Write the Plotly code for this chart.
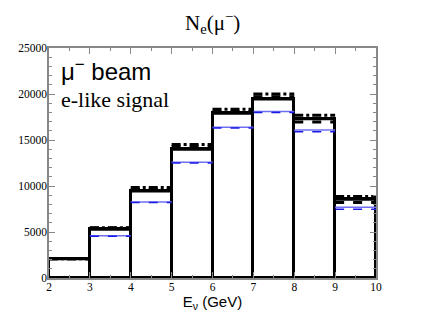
import plotly.graph_objects as go

# bin edges in GeV and event counts per bin
edges = [2, 3, 4, 5, 6, 7, 8, 9, 10]
solid_black = [2100, 5300, 9450, 14000, 17900, 19450, 17300, 8550]
dashed_black = [2100, 5430, 9650, 14280, 18100, 19700, 16950, 8200]
dashdot_black = [2100, 5450, 9850, 14500, 18350, 20000, 17700, 8850]
solid_blue = [2100, 4600, 8250, 12580, 16380, 18100, 16100, 7700]
dashed_blue = [2100, 4550, 8200, 12500, 16300, 18000, 15900, 7480]

SERIF = "Liberation Serif, Times New Roman, serif"
SANS = "Liberation Sans, Arial, sans-serif"


def segments(values):
    """Flat segments, one per bin, broken by None."""
    xs, ys = [], []
    for i, v in enumerate(values):
        xs += [edges[i], edges[i + 1], None]
        ys += [v, v, None]
    return xs, ys


centers = [(a + b) / 2 for a, b in zip(edges[:-1], edges[1:])]

fig = go.Figure()

# main histogram drawn as open bars
fig.add_trace(go.Bar(
    x=centers, y=solid_black, width=1,
    marker=dict(color="white", line=dict(color="black", width=3)),
))

for vals, color, dash, width in [
    (solid_blue, "#6f6ff2", "solid", 1.5),
    (dashed_blue, "#1a1ae6", "dash", 1.5),
    (dashed_black, "black", "dash", 3),
    (dashdot_black, "black", "dashdot", 3),
]:
    xs, ys = segments(vals)
    fig.add_trace(go.Scatter(
        x=xs, y=ys, mode="lines",
        line=dict(color=color, dash=dash, width=width),
    ))

# redraw solid tops so they sit above the dashed lines
xs, ys = segments(solid_black)
fig.add_trace(go.Scatter(x=xs, y=ys, mode="lines", line=dict(color="black", width=3)))

axis_common = dict(
    showgrid=False, zeroline=False, automargin=False,
    showline=True, linecolor="#888888", linewidth=1.5, mirror="ticks",
    ticks="inside", ticklen=6, tickcolor="#888888", tickwidth=1,
    tickfont=dict(family=SERIF, size=11.5, color="black"),
)

fig.update_xaxes(
    range=[2, 10], dtick=1, tick0=2, ticklabelstandoff=-3,
    minor=dict(dtick=0.5, ticks="inside", ticklen=3, tickcolor="#888888"),
    title=dict(text="E<sub>ν</sub> (GeV)", font=dict(family=SANS, size=15, color="black"),
               standoff=0),
    **axis_common,
)
fig.update_yaxes(
    range=[0, 25000], dtick=5000, tickformat="d", ticklabelstandoff=-2,
    minor=dict(dtick=1000, ticks="inside", ticklen=3, tickcolor="#888888"),
    **axis_common,
)

fig.add_annotation(
    text="N<sub>e</sub>(μ<sup>−</sup>)", xref="paper", yref="paper", x=0.5, y=1.04,
    xanchor="center", yanchor="bottom", showarrow=False,
    font=dict(family=SERIF, size=21, color="black"),
)
fig.add_annotation(
    text="μ<sup>−</sup> beam", xref="paper", yref="paper", x=0.03, y=0.98,
    xanchor="left", yanchor="top", showarrow=False,
    font=dict(family=SANS, size=24, color="black"),
)
fig.add_annotation(
    text="e-like signal", xref="paper", yref="paper", x=0.03, y=0.84,
    xanchor="left", yanchor="top", showarrow=False,
    font=dict(family=SERIF, size=22, color="black"),
)

fig.update_layout(
    width=423, height=327,
    margin=dict(l=41, r=55, t=40, b=57),
    paper_bgcolor="white", plot_bgcolor="white",
    showlegend=False, bargap=0,
)

fig.write_html("out.html")
